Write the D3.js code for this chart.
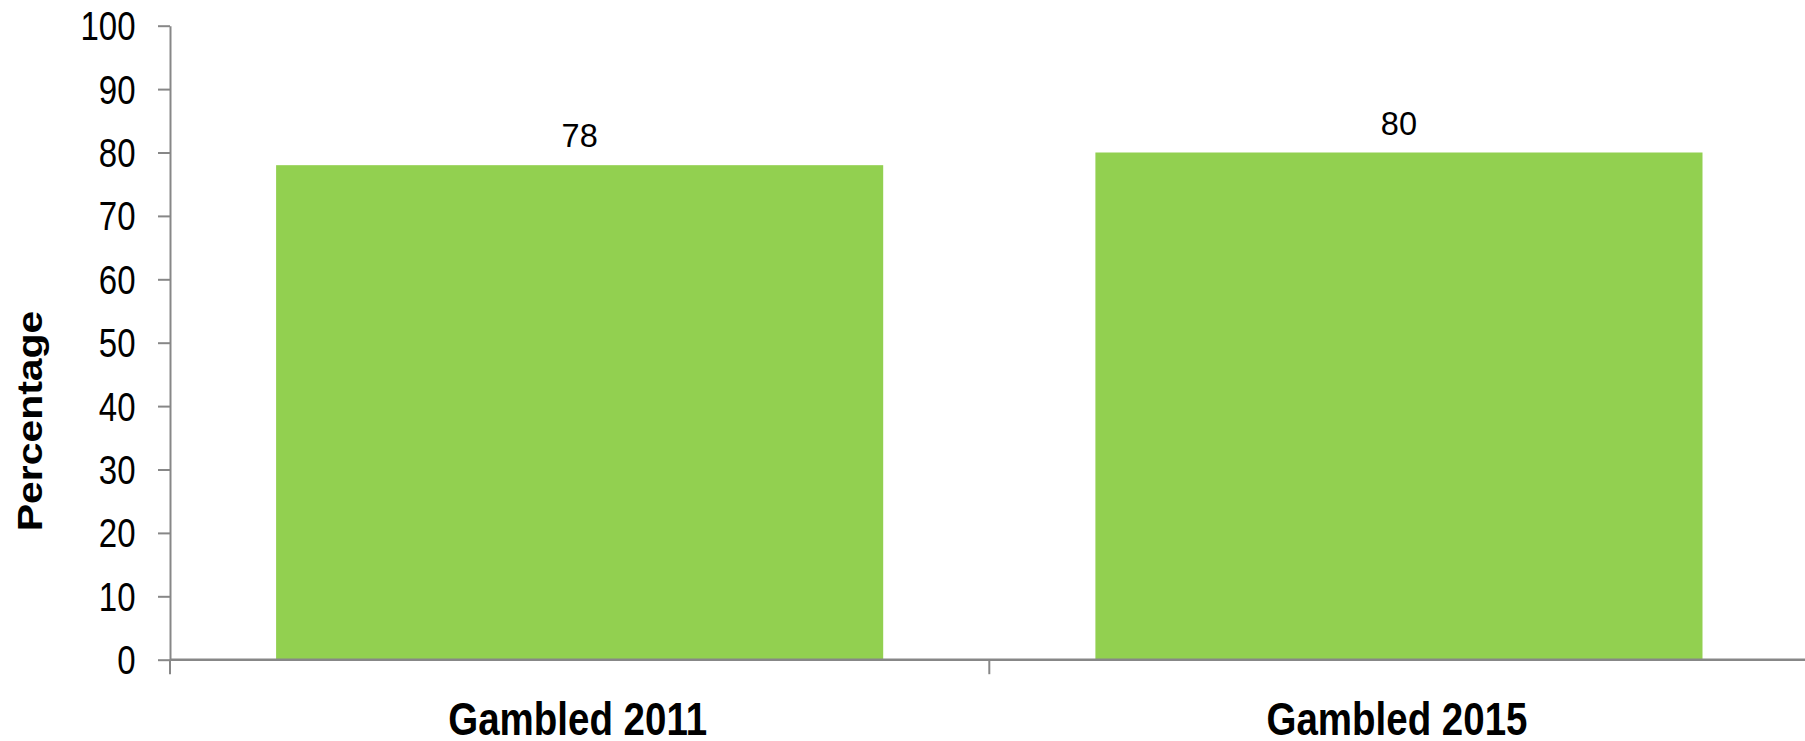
<!DOCTYPE html>
<html>
<head>
<meta charset="utf-8">
<script src="https://cdn.jsdelivr.net/npm/d3@7"></script>
<style>
  html, body { margin: 0; padding: 0; background: #fff; }
  svg { display: block; }
  text { font-family: "Liberation Sans", Arial, sans-serif; fill: #000; }
</style>
</head>
<body>
<svg id="chart" width="1805" height="741"></svg>
<script>
const categories = ["Gambled 2011", "Gambled 2015"];
const values = [78, 80];
const yTicks = [0, 10, 20, 30, 40, 50, 60, 70, 80, 90, 100];
const yTitle = "Percentage";

const svg = d3.select("#chart");
const axisColor = "#878787";
const barColor = "#92D050";
const stretch = 1.22;

const x0 = 170, x1 = 1808.6;
const yBottom = 659.7, yTop = 25.7;

const x = d3.scaleBand().domain(categories).range([x0, x1])
  .paddingInner(0.259).paddingOuter(0.1295);
const y = d3.scaleLinear().domain([0, 100]).range([yBottom, yTop]);

// Bars
svg.append("g").selectAll("rect").data(values).join("rect")
  .attr("x", (d, i) => x(categories[i]))
  .attr("width", x.bandwidth())
  .attr("y", d => y(d))
  .attr("height", d => y(0) - y(d))
  .attr("fill", barColor);

// Y axis
const yAxis = svg.append("g").attr("transform", `translate(${x0},0)`)
  .call(d3.axisLeft(y).tickValues(yTicks).tickSize(12).tickSizeOuter(0).tickFormat(d3.format("d")));
yAxis.select(".domain").attr("stroke", axisColor).attr("stroke-width", 2);
yAxis.selectAll(".tick line").attr("stroke", axisColor).attr("stroke-width", 2);
yAxis.selectAll(".tick text").remove();
yAxis.selectAll(".tick").append("g")
  .attr("transform", `translate(-34.5,14) scale(1,${stretch})`)
  .append("text")
  .attr("text-anchor", "end")
  .style("font-size", "33px")
  .text(d => d);

// X axis
const step = x.step();
const boundaries = categories.map(c => x(c) - step * x.paddingInner() / 2);
const xAxisG = svg.append("g");
xAxisG.append("line")
  .attr("x1", x0).attr("x2", x1)
  .attr("y1", y(0)).attr("y2", y(0))
  .attr("stroke", axisColor).attr("stroke-width", 2.4);
xAxisG.selectAll("line.tick").data(boundaries).join("line")
  .attr("class", "tick")
  .attr("x1", d => d).attr("x2", d => d)
  .attr("y1", y(0)).attr("y2", y(0) + 14.5)
  .attr("stroke", axisColor).attr("stroke-width", 2);

// Category labels
xAxisG.selectAll("g.cat").data(categories).join("g")
  .attr("class", "cat")
  .attr("transform", d => `translate(${x(d) + x.bandwidth() / 2 - 2},735) scale(1,${stretch})`)
  .append("text")
  .attr("text-anchor", "middle")
  .style("font-size", "38.5px")
  .style("font-weight", "bold")
  .text(d => d);

// Value labels
svg.append("g").selectAll("text").data(values).join("text")
  .attr("x", (d, i) => x(categories[i]) + x.bandwidth() / 2)
  .attr("y", d => y(d) - 18)
  .attr("text-anchor", "middle")
  .style("font-size", "32.5px")
  .text(d => d);

// Y title
svg.append("g")
  .attr("transform", `translate(42,421) rotate(-90) scale(1.17,1)`)
  .append("text")
  .attr("text-anchor", "middle")
  .style("font-size", "35px")
  .style("font-weight", "bold")
  .text(yTitle);
</script>
</body>
</html>
